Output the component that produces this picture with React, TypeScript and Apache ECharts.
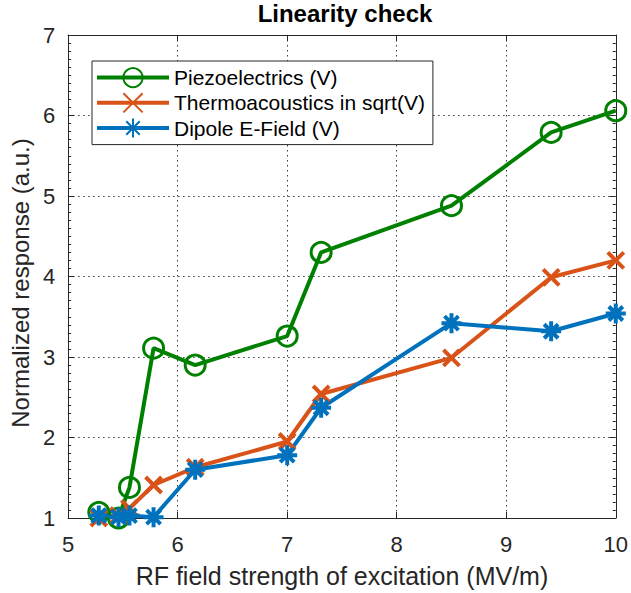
import { useEffect, useRef } from "react";
import * as echarts from "echarts";

// RF field strength (MV/m) at each excitation step
const fieldStrength = [5.28, 5.46, 5.56, 5.78, 6.16, 7.0, 7.31, 8.5, 9.41, 10.0];
// Normalized responses (a.u.)
const piezoelectrics = [1.07, 1.0, 1.38, 3.11, 2.9, 3.26, 4.3, 4.88, 5.79, 6.06];
const thermoacoustics = [1.0, 1.03, 1.12, 1.41, 1.63, 1.95, 2.54, 2.99, 3.99, 4.2];
const dipoleField = [1.03, 1.01, 1.03, 1.01, 1.6, 1.78, 2.37, 3.42, 3.32, 3.54];

const seriesNames = [
  "Piezoelectrics (V)",
  "Thermoacoustics in sqrt(V)",
  "Dipole E-Field (V)",
];

const GREEN = "#008000";
const ORANGE = "#D95319";
const BLUE = "#0072BD";
const AXIS = "#262626";
const FONT = "'Liberation Sans', Arial, Helvetica, sans-serif";

const CROSS = "path://M0,0L10,10M10,0L0,10";
const ASTERISK = "path://M5,0L5,10M0,5L10,5M1.5,1.5L8.5,8.5M8.5,1.5L1.5,8.5";

const pairs = (ys: number[]) => fieldStrength.map((x, i) => [x, ys[i]]);

export default function App() {
  const ref = useRef<HTMLDivElement>(null);

  useEffect(() => {
    if (!ref.current) return;
    const chart = echarts.init(ref.current, undefined, { renderer: "svg" });

    const tickStyle = { show: true, inside: true, length: 6, lineStyle: { color: AXIS, width: 1 } };
    const lineAxis = { show: true, lineStyle: { color: AXIS, width: 1 } };
    const grid = { show: true, lineStyle: { color: "#3a3a3a", width: 1, type: [1.5, 3.5] } };

    chart.setOption({
      animation: false,
      backgroundColor: "#ffffff",
      textStyle: { fontFamily: FONT },
      title: {
        text: "Linearity check",
        left: 345,
        top: 0,
        padding: 0,
        textAlign: "center",
        textStyle: { fontFamily: FONT, fontSize: 24, fontWeight: "bold", color: "#000", lineHeight: 27 },
      },
      grid: { left: 66, right: 12, top: 35, bottom: 75, containLabel: false },
      legend: {
        orient: "vertical",
        left: 92,
        top: 61,
        padding: [6, 8, 6, 3],
        itemWidth: 72,
        itemHeight: 24,
        itemGap: 4,
        borderColor: AXIS,
        borderWidth: 1,
        backgroundColor: "#fff",
        data: seriesNames,
        lineStyle: { width: 4 },
        textStyle: { fontFamily: FONT, fontSize: 21, color: "#000" },
      },
      xAxis: [
        {
          type: "value",
          min: 5,
          max: 10,
          interval: 1,
          position: "bottom",
          name: "RF field strength of excitation (MV/m)",
          nameLocation: "middle",
          nameGap: 45,
          nameTextStyle: { fontFamily: FONT, fontSize: 25, color: AXIS },
          axisLine: lineAxis,
          axisTick: tickStyle,
          axisLabel: { fontFamily: FONT, fontSize: 22, color: AXIS, margin: 15 },
          splitLine: grid,
        },
        {
          type: "value",
          min: 5,
          max: 10,
          interval: 1,
          position: "top",
          axisLine: lineAxis,
          axisTick: tickStyle,
          axisLabel: { show: false },
          splitLine: { show: false },
        },
      ],
      yAxis: [
        {
          type: "value",
          min: 1,
          max: 7,
          interval: 1,
          position: "left",
          name: "Normalized response (a.u.)",
          nameLocation: "middle",
          nameGap: 28,
          nameTextStyle: { fontFamily: FONT, fontSize: 24, color: AXIS, padding: [0, 13, 0, 0] },
          axisLine: lineAxis,
          axisTick: tickStyle,
          minorTick: { show: true, splitNumber: 10, length: 3, lineStyle: { color: AXIS } },
          axisLabel: { fontFamily: FONT, fontSize: 22, color: AXIS, margin: 13 },
          splitLine: grid,
        },
        {
          type: "value",
          min: 1,
          max: 7,
          interval: 1,
          position: "right",
          axisLine: lineAxis,
          axisTick: tickStyle,
          minorTick: { show: true, splitNumber: 10, length: 3, lineStyle: { color: AXIS } },
          axisLabel: { show: false },
          splitLine: { show: false },
        },
      ],
      series: [
        {
          name: seriesNames[0],
          type: "line",
          data: pairs(piezoelectrics),
          clip: false,
          symbol: "circle",
          symbolSize: 20,
          lineStyle: { color: GREEN, width: 4 },
          itemStyle: { color: "rgba(0,0,0,0)", borderColor: GREEN, borderWidth: 3 },
        },
        {
          name: seriesNames[1],
          type: "line",
          data: pairs(thermoacoustics),
          clip: false,
          symbol: CROSS,
          symbolSize: 16,
          lineStyle: { color: ORANGE, width: 4 },
          itemStyle: { color: ORANGE, borderColor: ORANGE, borderWidth: 4 },
        },
        {
          name: seriesNames[2],
          type: "line",
          data: pairs(dipoleField),
          clip: false,
          symbol: ASTERISK,
          symbolSize: 20,
          lineStyle: { color: BLUE, width: 4 },
          itemStyle: { color: BLUE, borderColor: BLUE, borderWidth: 4 },
        },
      ],
    });

    return () => chart.dispose();
  }, []);

  return (
    <div
      ref={ref}
      style={{ position: "absolute", left: 0, top: 0, width: 631, height: 593 }}
    />
  );
}
